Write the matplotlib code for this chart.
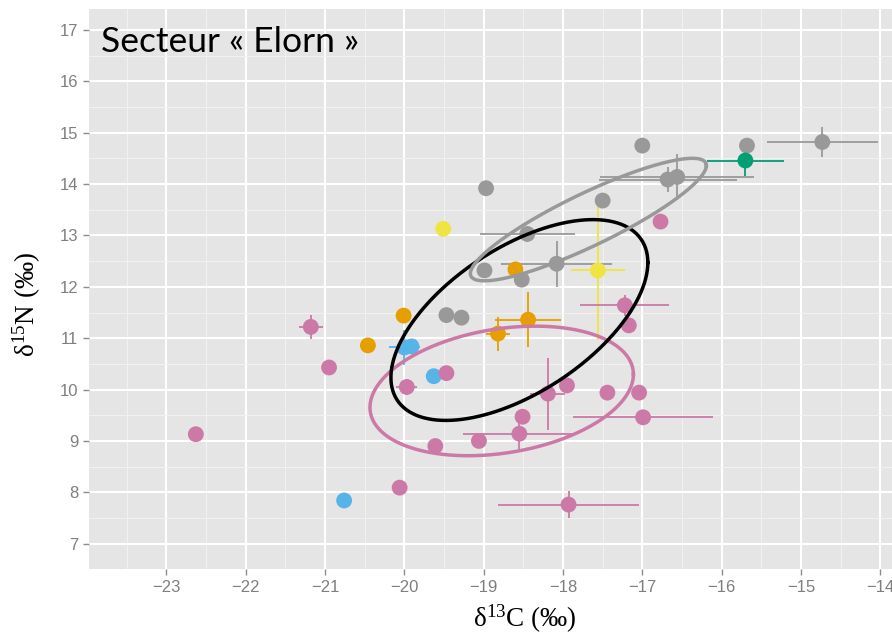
import numpy as np
import matplotlib
matplotlib.use("Agg")
import matplotlib.pyplot as plt

plt.rcParams['mathtext.fontset'] = 'stix'

# ---------------- data ----------------
gray_x = [-18.97, -17.00, -15.68, -14.73, -16.68, -16.56, -17.50, -18.45, -18.08, -18.99, -18.52, -19.47, -19.28]
gray_y = [13.92, 14.75, 14.75, 14.82, 14.09, 14.14, 13.68, 13.03, 12.45, 12.32, 12.14, 11.45, 11.40]
gray_xerr = [0, 0, 0, 0.70, 0.87, 0.97, 0, 0.60, 0.70, 0, 0, 0, 0]
gray_yerr = [0, 0, 0, 0.30, 0.25, 0.44, 0, 0.16, 0.45, 0, 0, 0, 0]

green_x = [-15.70]
green_y = [14.46]
green_xerr = [0.49]
green_yerr = [0.30]

yellow_x = [-19.51, -17.56]
yellow_y = [13.13, 12.32]
yellow_xerr = [0, 0.34]
yellow_yerr = [0, 1.36]

orange_x = [-18.60, -18.44, -18.82, -20.01, -20.46]
orange_y = [12.34, 11.36, 11.09, 11.44, 10.86]
orange_xerr = [0, 0.42, 0.15, 0, 0]
orange_yerr = [0, 0.53, 0.33, 0, 0]

blue_x = [-20.00, -19.91, -19.63, -20.76]
blue_y = [10.82, 10.84, 10.26, 7.84]
blue_xerr = [0.20, 0, 0, 0]
blue_yerr = [0.34, 0, 0, 0]

pink_x = [-21.18, -20.95, -19.97, -19.47, -22.63, -20.06, -19.61, -19.06, -18.55, -18.51,
          -18.19, -17.95, -17.44, -17.04, -16.99, -17.93, -17.22, -17.17, -16.77]
pink_y = [11.22, 10.43, 10.05, 10.32, 9.13, 8.09, 8.90, 9.00, 9.14, 9.47,
          9.92, 10.08, 9.94, 9.94, 9.46, 7.76, 11.64, 11.25, 13.27]
pink_xerr = [0.15, 0, 0.13, 0, 0, 0, 0, 0, 0.71, 0,
             0.22, 0, 0, 0, 0.88, 0.89, 0.56, 0, 0]
pink_yerr = [0.23, 0, 0.15, 0, 0, 0, 0, 0, 0.32, 0,
             0.70, 0, 0, 0, 0, 0.27, 0.20, 0, 0]

# ellipses: center, semi-diameter A, conjugate semi-diameter B (data units)
ell_gray = dict(center=(-17.68, 13.31), A=(1.488, 1.051), B=(0.0, 0.564))
ell_black = dict(center=(-18.55, 11.354), A=(1.620, 1.119), B=(0.0, 1.603))
ell_pink = dict(center=(-18.773, 9.973), A=(1.661, 0.321), B=(0.0, 1.220))

x_ticks = [-23, -22, -21, -20, -19, -18, -17, -16, -15, -14]
y_ticks = [7, 8, 9, 10, 11, 12, 13, 14, 15, 16, 17]

title_text = "Secteur « Elorn »"

# ---------------- figure ----------------
W, H = 892, 635
fig = plt.figure(figsize=(W / 100, H / 100), dpi=100)
ax = fig.add_axes([88.7 / W, 65.7 / H, 1 - 88.7 / W, 560.3 / H])
ax.set_facecolor('#E5E5E5')
ax.set_xlim(-23.981, -13.851)
ax.set_ylim(6.51, 17.41)

ax.set_xticks(x_ticks)
ax.set_yticks(y_ticks)
ax.set_xticks(np.arange(-23.5, -13.5, 1.0), minor=True)
ax.set_yticks(np.arange(6.5, 17.5, 1.0), minor=True)
ax.grid(which='major', color='white', linewidth=1.5)
ax.grid(which='minor', color='#F2F2F2', linewidth=0.7)
ax.set_axisbelow(True)
for s in ax.spines.values():
    s.set_visible(False)

ax.tick_params(which='major', length=4.5, width=1.0, color='#8C8C8C',
               labelsize=12, labelcolor='#7F7F7F', pad=3)
ax.tick_params(which='minor', length=0)
for lab in ax.get_xticklabels() + ax.get_yticklabels():
    lab.set_family('Liberation Sans')

groups = [
    (gray_x, gray_y, gray_xerr, gray_yerr, '#999999'),
    (orange_x, orange_y, orange_xerr, orange_yerr, '#E69F00'),
    (yellow_x, yellow_y, yellow_xerr, yellow_yerr, '#F0E442'),
    (blue_x, blue_y, blue_xerr, blue_yerr, '#56B4E9'),
    (pink_x, pink_y, pink_xerr, pink_yerr, '#CC79A7'),
    (green_x, green_y, green_xerr, green_yerr, '#009E73'),
]

for gx, gy, gxe, gye, col in groups:
    gx = np.array(gx); gy = np.array(gy)
    gxe = np.array(gxe); gye = np.array(gye)
    m = (gxe > 0) | (gye > 0)
    if m.any():
        ax.errorbar(gx[m], gy[m], xerr=gxe[m], yerr=gye[m], fmt='none',
                    ecolor=col, elinewidth=1.3, capsize=0, zorder=2)
    ax.scatter(gx, gy, s=130, color=col, edgecolors='none', zorder=3)

t = np.linspace(0, 2 * np.pi, 400)
for ell, col in [(ell_pink, '#CC79A7'), (ell_black, 'black'), (ell_gray, '#999999')]:
    cx, cy = ell['center']
    ax_, ay_ = ell['A']
    bx_, by_ = ell['B']
    ex = cx + ax_ * np.cos(t) + bx_ * np.sin(t)
    ey = cy + ay_ * np.cos(t) + by_ * np.sin(t)
    ax.plot(ex, ey, color=col, linewidth=2.5, zorder=4)

fig.text(101 / W, 1 - 42 / H, title_text,
         fontsize=25.5, family='Lato', color='black', va='center', ha='left')

fig.text(525 / W, 1 - 619 / H, r'$\mathregular{\delta^{13}}$C (‰)',
         family='Liberation Serif', fontsize=19.5, ha='center', va='center')
fig.text(27 / W, 1 - 305 / H, r'$\mathregular{\delta^{15}}$N (‰)',
         family='Liberation Serif', fontsize=19.5, ha='center', va='center',
         rotation=90)

fig.savefig('out.png', dpi=100, facecolor='white')
